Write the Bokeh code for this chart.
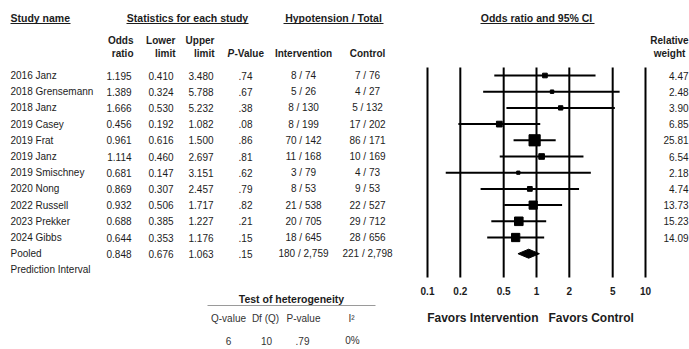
from bokeh.plotting import figure
from bokeh.layouts import row
from bokeh.models import Range1d
from bokeh.embed import file_html
from bokeh.resources import INLINE
from bokeh.core.properties import value

# ---------------- data ----------------
studies = ["2016 Janz", "2018 Grensemann", "2018 Janz", "2019 Casey", "2019 Frat",
           "2019 Janz", "2019 Smischney", "2020 Nong", "2022 Russell", "2023 Prekker",
           "2024 Gibbs"]
odds = [1.195, 1.389, 1.666, 0.456, 0.961, 1.114, 0.681, 0.869, 0.932, 0.688, 0.644]
lower = [0.410, 0.324, 0.530, 0.192, 0.616, 0.460, 0.147, 0.307, 0.506, 0.385, 0.353]
upper = [3.480, 5.788, 5.232, 1.082, 1.500, 2.697, 3.151, 2.457, 1.717, 1.227, 1.176]
pvals = [".74", ".67", ".38", ".08", ".86", ".81", ".62", ".79", ".82", ".21", ".15"]
intervention = ["8 / 74", "5 / 26", "8 / 130", "8 / 199", "70 / 142", "11 / 168",
                "3 / 79", "8 / 53", "21 / 538", "20 / 705", "18 / 645"]
control = ["7 / 76", "4 / 27", "5 / 132", "17 / 202", "86 / 171", "10 / 169",
           "4 / 73", "9 / 53", "22 / 527", "29 / 712", "28 / 656"]
weights = [4.47, 2.48, 3.90, 6.85, 25.81, 6.54, 2.18, 4.74, 13.73, 15.23, 14.09]

pooled_label = "Pooled"
pooled_or = 0.848
pooled_lo = 0.676
pooled_hi = 1.063
pooled_p = ".15"
pooled_int = "180 / 2,759"
pooled_ctl = "221 / 2,798"
pred_label = "Prediction Interval"

ticks = [0.1, 0.2, 0.5, 1, 2, 5, 10]
tick_labels = ["0.1", "0.2", "0.5", "1", "2", "5", "10"]

het_headers = ["Q-value", "Df (Q)", "P-value", "I\u00b2"]
het_values = ["6", "10", ".79", "0%"]

# ---------------- layout helpers ----------------
FONT = "Liberation Sans"
TXT = "#1c1c1c"
H = 349
ROW0, STEP = 75.0, 16.2


def ry(py):
    return (py - ROW0) / STEP


yr = Range1d(ry(H), ry(0))
rows_y = list(range(len(studies)))
pooled_y = len(studies)
pred_y = len(studies) + 1


def base(width, x_range, **kw):
    p = figure(width=width, height=H, x_range=x_range, y_range=yr,
               output_backend="svg", toolbar_location=None,
               x_axis_location=None, y_axis_location=None, min_border=0,
               outline_line_color=None, background_fill_color="white",
               border_fill_color="white", **kw)
    p.grid.visible = False
    return p


def txt(p, xs, ys, texts, align="left", bold=False, size="10px", color=TXT,
        italic=False, x_offset=0):
    style = "bold italic" if (bold and italic) else ("bold" if bold else ("italic" if italic else "normal"))
    p.text(x=xs, y=ys, text=texts, text_align=align, text_baseline="middle",
           text_font=value(FONT), text_font_size=size, text_font_style=style,
           text_color=color, x_offset=x_offset)


# ---------------- table ----------------
TW = 415
t = base(TW, Range1d(0, TW))

# top headers
txt(t, [10], [ry(17)], ["Study name"], bold=True, size="10.5px")
txt(t, [187], [ry(17)], ["Statistics for each study"], align="center", bold=True, size="10.5px")
txt(t, [333], [ry(17)], ["Hypotension / Total"], align="center", bold=True, size="10.5px")
t.segment(x0=[10, 126, 283], y0=[ry(23)] * 3, x1=[70, 248, 383], y1=[ry(23)] * 3,
          line_color=TXT, line_width=1)

# column headers
txt(t, [133, 175, 214], [ry(40)] * 3, ["Odds", "Lower", "Upper"], align="right", bold=True)
txt(t, [133, 175, 214], [ry(53)] * 3, ["ratio", "limit", "limit"], align="right", bold=True)
txt(t, [227], [ry(53)], ["P"], bold=True, italic=True)
txt(t, [234], [ry(53)], ["-Value"], bold=True)
txt(t, [303, 367], [ry(53)] * 2, ["Intervention", "Control"], align="center", bold=True)

# study rows
all_y = rows_y + [pooled_y]
txt(t, [10] * (len(studies) + 2), rows_y + [pooled_y, pred_y],
    studies + [pooled_label, pred_label])
txt(t, [131] * len(all_y), all_y, [f"{v:.3f}" for v in odds + [pooled_or]], align="right")
txt(t, [173] * len(all_y), all_y, [f"{v:.3f}" for v in lower + [pooled_lo]], align="right")
txt(t, [213] * len(all_y), all_y, [f"{v:.3f}" for v in upper + [pooled_hi]], align="right")
txt(t, [245] * len(all_y), all_y, pvals + [pooled_p], align="center")
txt(t, [303] * len(all_y), all_y, intervention + [pooled_int], align="center")
txt(t, [367] * len(all_y), all_y, control + [pooled_ctl], align="center")

# heterogeneity block
txt(t, [291], [ry(298)], ["Test of heterogeneity"], align="center", bold=True, size="10.5px")
t.segment(x0=[207], y0=[ry(305)], x1=[375], y1=[ry(305)], line_color="#9a9a9a", line_width=1)
txt(t, [228, 265, 303, 351], [ry(318)] * 4, het_headers, align="center", color="#333333")
txt(t, [228, 266, 302, 352], [ry(340)] * 4, het_values, align="center", color="#333333")

# ---------------- forest + relative weight ----------------
PX_ONE, PX_DEC = 536.0, 109.0
FR = 689


def pv(px):
    return 10 ** ((px - PX_ONE) / PX_DEC)


f = base(FR - TW, Range1d(pv(TW), pv(FR)), x_axis_type="log")

f.segment(x0=ticks, y0=[ry(67)] * len(ticks), x1=ticks, y1=[ry(277)] * len(ticks),
          line_color="black", line_width=2)
f.segment(x0=lower, y0=rows_y, x1=upper, y1=rows_y, line_color="black", line_width=2)
sizes = [2.2 * (w ** 0.5) for w in weights]
f.scatter(x=odds, y=rows_y, marker="square", size=sizes, color="black")
dh = 4.5 / STEP
f.patch(x=[pooled_lo, pooled_or, pooled_hi, pooled_or],
        y=[pooled_y, pooled_y - dh, pooled_y, pooled_y + dh], color="black")

txt(f, ticks, [ry(290)] * len(ticks), tick_labels, align="center", bold=True)
txt(f, [1], [ry(17)], ["Odds ratio and 95% CI"], align="center", bold=True, size="10.5px")
f.segment(x0=[pv(480)], y0=[ry(23)], x1=[pv(594)], y1=[ry(23)], line_color=TXT, line_width=1)
txt(f, [1], [ry(317)], ["Favors Intervention"], align="right", bold=True, size="12px", x_offset=2)
txt(f, [1], [ry(317)], ["Favors Control"], align="left", bold=True, size="12px", x_offset=12)

# relative weight column
txt(f, [pv(669)], [ry(40)], ["Relative"], align="center", bold=True)
txt(f, [pv(669)], [ry(53)], ["weight"], align="center", bold=True)
txt(f, [pv(688)] * len(weights), rows_y, [f"{v:.2f}" for v in weights], align="right")

layout = row(t, f)
open("out.html", "w").write(file_html(layout, INLINE))
